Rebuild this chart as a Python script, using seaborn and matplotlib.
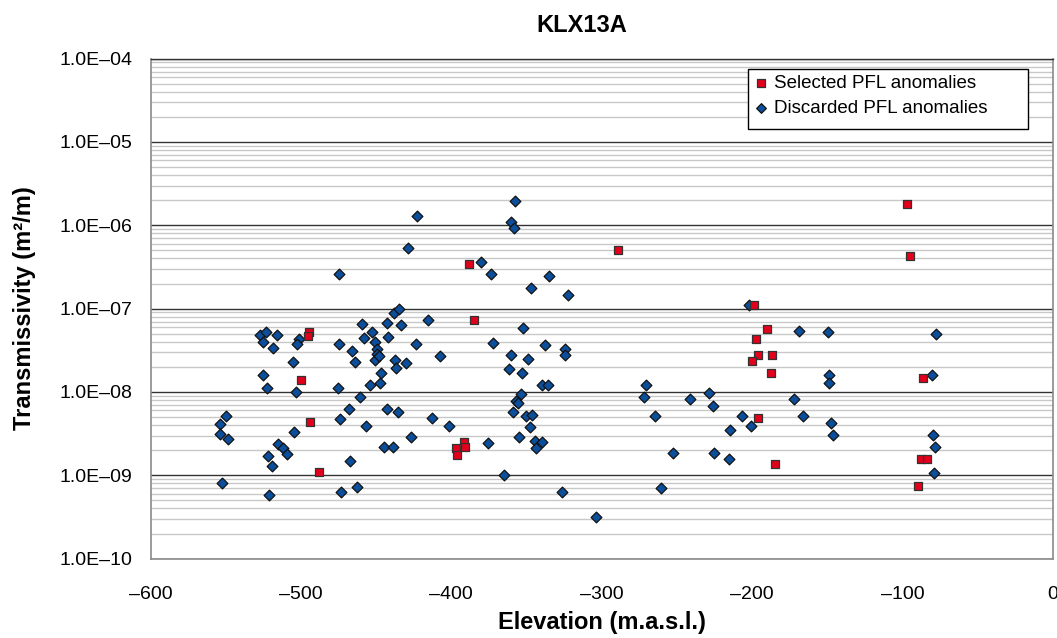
import numpy as np
import pandas as pd
import matplotlib
matplotlib.use("Agg")
import matplotlib.pyplot as plt
import seaborn as sns
from matplotlib.patches import Rectangle
from matplotlib.ticker import FixedLocator, FuncFormatter, LogLocator, NullFormatter

title = "KLX13A"
xlabel = "Elevation (m.a.s.l.)"
ylabel = "Transmissivity (m²/m)"
sel_label = "Selected PFL anomalies"
dis_label = "Discarded PFL anomalies"

sel_elev = [-494.5, -495.5, -499.8, -494.0, -488.0,
            -388.0, -384.9, -391.6, -390.9, -396.9, -396.4,
            -288.9,
            -199.0, -190.2, -197.3, -195.7, -186.4, -199.7, -187.3, -196.1, -184.6,
            -97.0, -94.8, -86.6, -87.7, -83.3, -89.9]
sel_T = [5.2e-8, 4.66e-8, 1.38e-8, 4.4e-9, 1.09e-9,
         3.44e-7, 7.3e-8, 2.49e-9, 2.19e-9, 2.1e-9, 1.74e-9,
         5.0e-7,
         1.09e-7, 5.75e-8, 4.3e-8, 2.8e-8, 2.8e-8, 2.38e-8, 1.7e-8, 4.9e-9, 1.38e-9,
         1.79e-6, 4.25e-7, 1.48e-8, 1.58e-9, 1.58e-9, 7.4e-10]

dis_elev = [-474.5, -527.3, -523.5, -525.1, -516.2, -518.8, -501.5, -502.9, -505.3, -525.5,
            -522.8, -503.1, -474.9, -465.9, -464.1, -475.6, -468.3, -473.8, -461.0, -550.1,
            -553.9, -553.7, -548.4, -552.6, -504.7, -515.5, -512.2, -509.1, -521.7, -519.3,
            -521.1, -467.2, -473.4, -462.9, -357.6, -422.6, -360.3, -358.1, -428.6, -380.0,
            -373.4, -334.8, -346.9, -322.6, -437.9, -434.6, -459.2, -443.0, -433.7, -415.3,
            -352.5, -452.6, -457.9, -450.8, -442.3, -423.3, -372.2, -337.5, -324.1, -324.1,
            -449.2, -449.2, -450.8, -448.1, -437.7, -437.0, -430.3, -407.5, -360.5, -349.0,
            -361.6, -352.9, -446.6, -453.9, -447.6, -339.4, -335.9, -353.4, -356.9, -355.4,
            -443.0, -435.7, -359.2, -350.5, -346.3, -456.6, -413.0, -401.5, -347.4, -427.0,
            -354.8, -445.0, -439.0, -375.6, -344.3, -339.6, -343.6, -365.1, -326.5, -201.9,
            -168.9, -270.5, -271.8, -264.7, -241.0, -228.7, -225.9, -206.8, -201.0, -214.4,
            -252.7, -225.2, -215.2, -260.5, -303.7, -172.4, -149.4, -77.3, -148.5, -148.9,
            -80.0, -165.8, -147.6, -146.3, -79.7, -78.0, -79.0]
dis_T = [2.6e-7, 4.8e-8, 5.2e-8, 4.0e-8, 4.8e-8, 3.4e-8, 4.3e-8, 3.8e-8, 2.3e-8, 1.6e-8,
         1.1e-8, 1.0e-8, 3.77e-8, 3.1e-8, 2.3e-8, 1.1e-8, 6.3e-9, 4.7e-9, 8.6e-9, 5.1e-9,
         4.07e-9, 3.1e-9, 2.7e-9, 8.1e-10, 3.3e-9, 2.4e-9, 2.1e-9, 1.8e-9, 1.7e-9, 1.3e-9,
         5.8e-10, 1.48e-9, 6.3e-10, 7.2e-10, 1.95e-6, 1.28e-6, 1.09e-6, 9.3e-7, 5.3e-7, 3.6e-7,
         2.57e-7, 2.46e-7, 1.78e-7, 1.47e-7, 8.9e-8, 9.8e-8, 6.5e-8, 6.8e-8, 6.4e-8, 7.2e-8,
         5.85e-8, 5.2e-8, 4.4e-8, 4.0e-8, 4.5e-8, 3.77e-8, 3.9e-8, 3.7e-8, 3.3e-8, 2.8e-8,
         3.3e-8, 2.86e-8, 2.4e-8, 2.7e-8, 2.4e-8, 1.95e-8, 2.2e-8, 2.68e-8, 2.78e-8, 2.47e-8,
         1.87e-8, 1.7e-8, 1.7e-8, 1.2e-8, 1.29e-8, 1.2e-8, 1.2e-8, 9.4e-9, 7.7e-9, 7.3e-9,
         6.3e-9, 5.7e-9, 5.8e-9, 5.2e-9, 5.3e-9, 3.85e-9, 4.8e-9, 3.85e-9, 3.76e-9, 2.9e-9,
         2.9e-9, 2.19e-9, 2.19e-9, 2.47e-9, 2.6e-9, 2.5e-9, 2.15e-9, 1.0e-9, 6.3e-10, 1.09e-7,
         5.4e-8, 1.2e-8, 8.7e-9, 5.2e-9, 8.2e-9, 9.8e-9, 6.7e-9, 5.1e-9, 3.85e-9, 3.47e-9,
         1.87e-9, 1.87e-9, 1.58e-9, 7.1e-10, 3.2e-10, 8.2e-9, 5.25e-8, 5.0e-8, 1.6e-8, 1.29e-8,
         1.58e-8, 5.1e-9, 4.25e-9, 3.05e-9, 3.05e-9, 2.19e-9, 1.07e-9]

x_ticks = [-600, -500, -400, -300, -200, -100, 0]
y_exps = [-10, -9, -8, -7, -6, -5, -4]

sns.set_theme(style="white")
plt.rcParams['font.family'] = ['Liberation Sans', 'DejaVu Sans']
plt.rcParams['text.color'] = 'black'
plt.rcParams['axes.labelcolor'] = 'black'

sel_df = pd.DataFrame({"elev": sel_elev, "T": sel_T})
dis_df = pd.DataFrame({"elev": dis_elev, "T": dis_T})

W, H = 1057, 638
fig = plt.figure(figsize=(W / 100, H / 100), dpi=100)
L, R, T, B = 150.7, 1052.7, 58.6, 558.6
ax = fig.add_axes([L / W, 1 - B / H, (R - L) / W, (B - T) / H])

sns.scatterplot(data=sel_df, x="elev", y="T", ax=ax, marker="s", s=34,
                color="#E3001B", edgecolor="#333333", linewidth=0.9,
                label=sel_label, zorder=4)
sns.scatterplot(data=dis_df, x="elev", y="T", ax=ax, marker="D", s=30,
                color="#0B4F9C", edgecolor="#111111", linewidth=0.9,
                label=dis_label, zorder=3)

ax.set_yscale("log")
ax.set_xlim(-600, 0)
ax.set_ylim(1e-10, 1e-4)

ax.xaxis.set_major_locator(FixedLocator(x_ticks))
ax.xaxis.set_major_formatter(FuncFormatter(lambda v, p: ("–%d" % abs(v)) if v < 0 else "%d" % v))
ax.yaxis.set_major_locator(FixedLocator([10.0 ** e for e in y_exps]))
ax.yaxis.set_major_formatter(FuncFormatter(
    lambda v, p: "1.0E–%02d" % abs(int(round(np.log10(v))))))
ax.yaxis.set_minor_locator(LogLocator(base=10, subs=np.arange(2, 10), numticks=100))
ax.yaxis.set_minor_formatter(NullFormatter())

ax.grid(False)
ax.grid(True, which="minor", axis="y", color="#c8c8c8", linewidth=1.0, zorder=0)
ax.grid(True, which="major", axis="y", color="#333333", linewidth=1.0, zorder=1)
ax.set_axisbelow(True)

for side in ["left", "bottom", "right"]:
    ax.spines[side].set_color("#8a8a8a")
    ax.spines[side].set_linewidth(1.2)
ax.spines["top"].set_color("#333333")
ax.spines["top"].set_linewidth(1.0)

ax.tick_params(axis="both", which="major", direction="out", length=7, width=1,
               color="#333333", labelsize=14, labelcolor="black")
ax.tick_params(axis="y", which="minor", length=0)
ax.tick_params(axis="x", pad=12.5)
ax.tick_params(axis="y", pad=6.3)

ax.set_xlabel(xlabel, fontsize=17, fontweight="bold", labelpad=6.3, color="black")
ax.set_ylabel(ylabel, fontsize=17, fontweight="bold", labelpad=17, color="black")
fig.text(582 / W, 1 - 32.3 / H, title, fontsize=17, fontweight="bold",
         ha="center", va="baseline", color="black")

# legend box (Excel-style, wider than its text)
lx0, lx1, ly0, ly1 = 748, 1028, 69, 129.3
ax.add_patch(Rectangle(((lx0 - L) / (R - L), (B - ly1) / (B - T)),
                       (lx1 - lx0) / (R - L), (ly1 - ly0) / (B - T),
                       transform=ax.transAxes, facecolor="white", edgecolor="black",
                       linewidth=1.0, zorder=5))
leg = ax.legend(loc="upper left", bbox_to_anchor=((lx0 - L) / (R - L), (B - ly0) / (B - T)),
                borderaxespad=0, fontsize=13.5, frameon=False,
                handletextpad=0.29, borderpad=0.3, labelspacing=0.45,
                handlelength=0.8, markerscale=0.9)
for t in leg.get_texts():
    t.set_color("black")
leg.set_zorder(6)

fig.savefig("out.png", dpi=100)
